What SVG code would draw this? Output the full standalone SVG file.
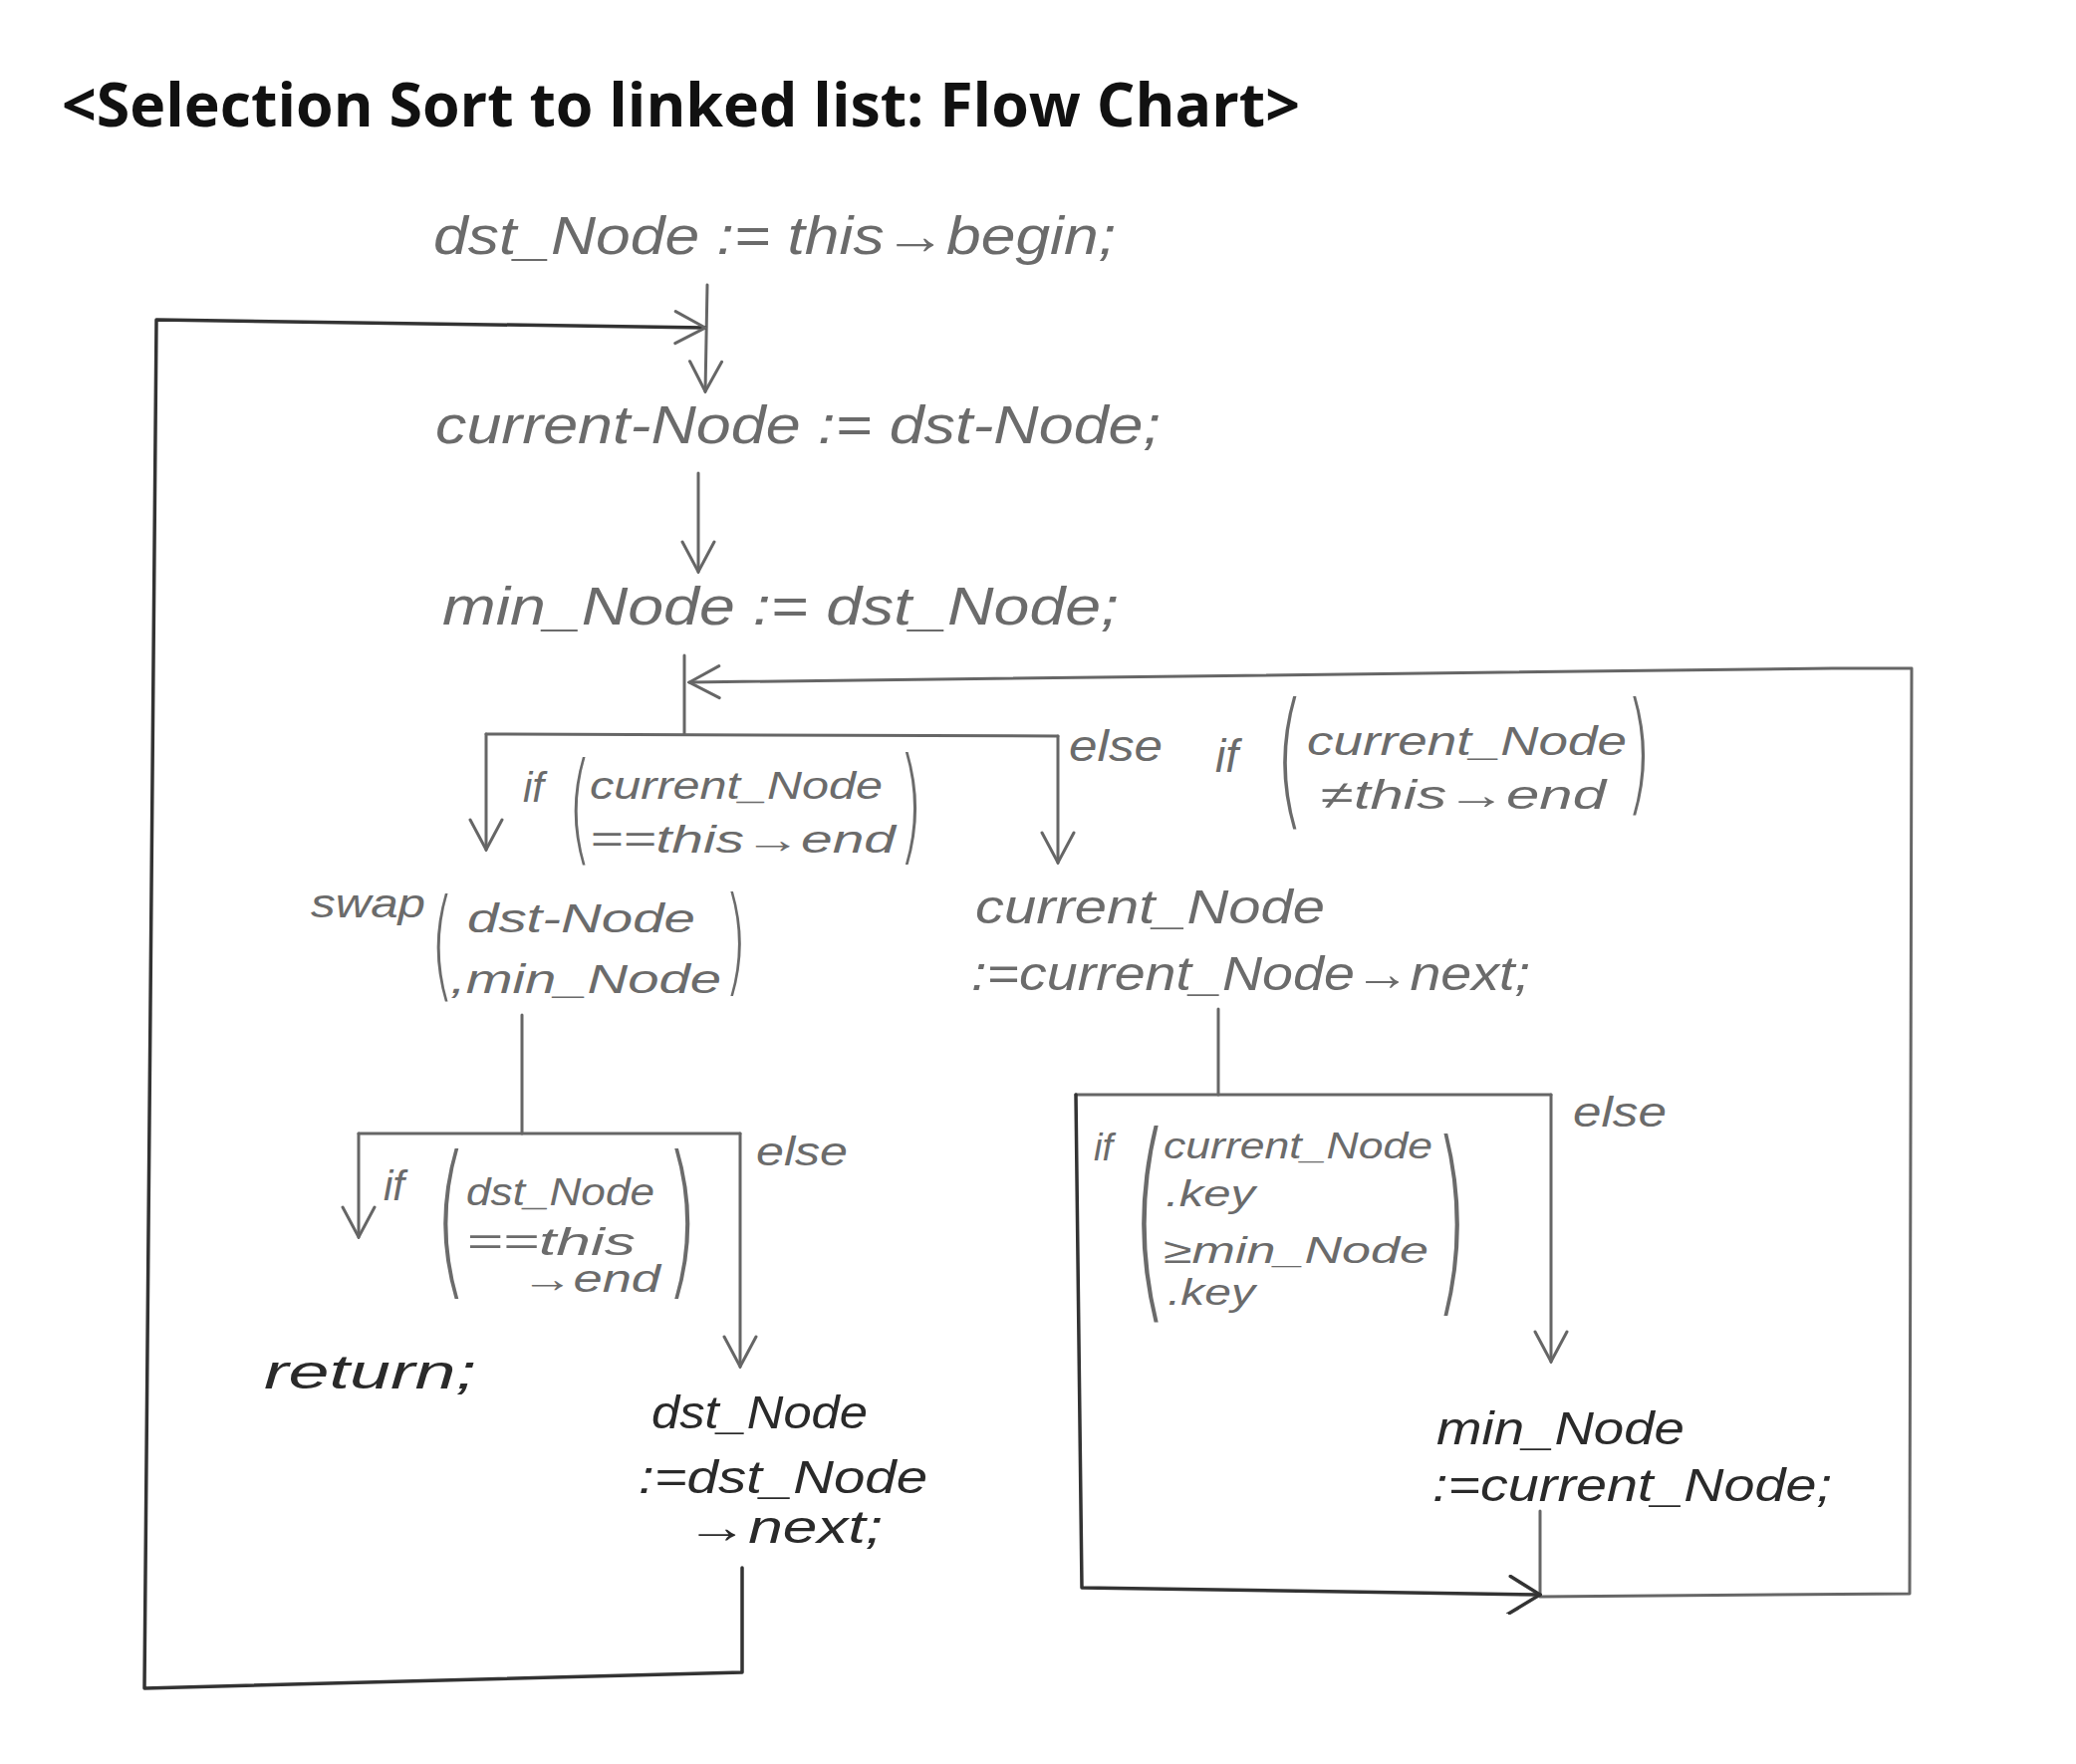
<svg xmlns="http://www.w3.org/2000/svg" width="2084" height="1771" viewBox="0 0 2084 1771">
<defs>
<style>
.title{font-family:"Open Sans","Liberation Sans",sans-serif;font-weight:bold;font-size:60px;fill:#111}
.h{font-family:"Liberation Sans","DejaVu Sans",sans-serif;font-style:italic;fill:#6b6b6b}
.d{fill:#2a2a2a}
.p{font-family:"DejaVu Sans","Liberation Sans",sans-serif;font-weight:200;fill:#6b6b6b}
.ln{fill:none;stroke:#666;stroke-width:3;stroke-linecap:round;stroke-linejoin:round}
.dk{stroke:#333;stroke-width:3.5}
</style>
<marker id="ah" markerUnits="userSpaceOnUse" viewBox="-34 -20 36 40" refX="0" refY="0" markerWidth="36" markerHeight="40" orient="auto">
<path d="M-30,-16 L0,0 L-30,16" fill="none" stroke="#666" stroke-width="3" stroke-linecap="round"/>
</marker>
<marker id="ahd" markerUnits="userSpaceOnUse" viewBox="-34 -20 36 40" refX="0" refY="0" markerWidth="36" markerHeight="40" orient="auto">
<path d="M-30,-18 L0,0 L-32,20" fill="none" stroke="#333" stroke-width="3.5" stroke-linecap="round"/>
</marker>
</defs>
<rect width="2084" height="1771" fill="#fff"/>
<text class="title" x="62" y="127" textLength="1243" lengthAdjust="spacingAndGlyphs">&lt;Selection Sort to linked list: Flow Chart&gt;</text>

<g id="connectors">
<path class="ln" d="M710,286 L708,393" marker-end="url(#ah)"/>
<path class="ln dk" d="M745,1574 L745,1679 L145,1695 L157,321 L708,329" marker-end="url(#ah)"/>
<path class="ln" d="M701,475 L701,574" marker-end="url(#ah)"/>
<path class="ln" d="M687,658 L687,737"/>
<path class="ln" d="M488,737 L1062,739"/>
<path class="ln" d="M488,737 L488,853" marker-end="url(#ah)"/>
<path class="ln" d="M1062,739 L1062,866" marker-end="url(#ah)"/>
<path class="ln" d="M1546,1517 L1546,1603 L1917,1600 L1919,671 L1839,671 L692,685" marker-end="url(#ah)"/>
<path class="ln" d="M1223,1013 L1223,1099"/>
<path class="ln" d="M1080,1099 L1557,1099"/>
<path class="ln dk" d="M1080,1099 L1086,1594 L1546,1601" marker-end="url(#ahd)"/>
<path class="ln" d="M1557,1099 L1557,1367" marker-end="url(#ah)"/>
<path class="ln" d="M524,1019 L524,1138"/>
<path class="ln" d="M360,1138 L743,1138"/>
<path class="ln" d="M360,1138 L360,1242" marker-end="url(#ah)"/>
<path class="ln" d="M743,1138 L743,1372" marker-end="url(#ah)"/>
</g>

<g id="n1"><text class="h" x="435" y="255" font-size="54" textLength="685" lengthAdjust="spacingAndGlyphs">dst_Node := this→begin;</text></g>
<g id="n2"><text class="h" x="437" y="445" font-size="54" textLength="728" lengthAdjust="spacingAndGlyphs">current-Node := dst-Node;</text></g>
<g id="n3"><text class="h" x="444" y="627" font-size="54" textLength="679" lengthAdjust="spacingAndGlyphs">min_Node := dst_Node;</text></g>

<g id="c1">
<text class="h" x="525" y="805" font-size="42">if</text>
<text class="p" transform="translate(570,852) scale(0.5,1)" font-size="122">(</text>
<text class="h" x="592" y="802" font-size="38" textLength="294" lengthAdjust="spacingAndGlyphs">current_Node</text>
<text class="h" x="592" y="856" font-size="38" textLength="307" lengthAdjust="spacingAndGlyphs">==this→end</text>
<text class="p" transform="translate(902,851) scale(0.5,1)" font-size="126">)</text>
</g>

<g id="c2">
<text class="h" x="1073" y="764" font-size="44" textLength="94" lengthAdjust="spacingAndGlyphs">else</text>
<text class="h" x="1220" y="775" font-size="46">if</text>
<text class="p" transform="translate(1280,813) scale(0.5,1)" font-size="149">(</text>
<text class="h" x="1312" y="758" font-size="40" textLength="321" lengthAdjust="spacingAndGlyphs">current_Node</text>
<text class="h" x="1326" y="812" font-size="40" textLength="286" lengthAdjust="spacingAndGlyphs">≠this→end</text>
<text class="p" transform="translate(1632,801) scale(0.5,1)" font-size="133">)</text>
</g>

<g id="swap">
<text class="h" x="312" y="921" font-size="40" textLength="115" lengthAdjust="spacingAndGlyphs">swap</text>
<text class="p" transform="translate(432,989) scale(0.5,1)" font-size="122">(</text>
<text class="h" x="469" y="936" font-size="40" textLength="229" lengthAdjust="spacingAndGlyphs">dst-Node</text>
<text class="h" x="452" y="997" font-size="40" textLength="272" lengthAdjust="spacingAndGlyphs">,min_Node</text>
<text class="p" transform="translate(727,985) scale(0.5,1)" font-size="117">)</text>
</g>

<g id="c3">
<text class="h" x="759" y="1170" font-size="40" textLength="92" lengthAdjust="spacingAndGlyphs">else</text>
<text class="h" x="385" y="1205" font-size="42">if</text>
<text class="p" transform="translate(436,1282) scale(0.5,1)" font-size="169">(</text>
<text class="h" x="468" y="1210" font-size="38" textLength="189" lengthAdjust="spacingAndGlyphs">dst_Node</text>
<text class="h" x="468" y="1260" font-size="38" textLength="170" lengthAdjust="spacingAndGlyphs">==this</text>
<text class="h" x="523" y="1297" font-size="38" textLength="140" lengthAdjust="spacingAndGlyphs">→end</text>
<text class="p" transform="translate(668,1282) scale(0.5,1)" font-size="169">)</text>
</g>

<g id="ret"><text class="h d" x="265" y="1394" font-size="48" textLength="213" lengthAdjust="spacingAndGlyphs">return;</text></g>

<g id="next">
<text class="h d" x="654" y="1434" font-size="46" textLength="217" lengthAdjust="spacingAndGlyphs">dst_Node</text>
<text class="h d" x="641" y="1499" font-size="46" textLength="290" lengthAdjust="spacingAndGlyphs">:=dst_Node</text>
<text class="h d" x="689" y="1549" font-size="46" textLength="197" lengthAdjust="spacingAndGlyphs">→next;</text>
</g>

<g id="cur">
<text class="h" x="979" y="927" font-size="48" textLength="351" lengthAdjust="spacingAndGlyphs">current_Node</text>
<text class="h" x="975" y="994" font-size="48" textLength="561" lengthAdjust="spacingAndGlyphs">:=current_Node→next;</text>
</g>

<g id="c4">
<text class="h" x="1579" y="1131" font-size="42" textLength="94" lengthAdjust="spacingAndGlyphs">else</text>
<text class="h" x="1098" y="1165" font-size="38">if</text>
<text class="p" transform="translate(1136,1298) scale(0.42,1)" font-size="221">(</text>
<text class="h" x="1168" y="1163" font-size="36" textLength="270" lengthAdjust="spacingAndGlyphs">current_Node</text>
<text class="h" x="1170" y="1211" font-size="36" textLength="90" lengthAdjust="spacingAndGlyphs">.key</text>
<text class="h" x="1168" y="1268" font-size="36" textLength="266" lengthAdjust="spacingAndGlyphs">≥min_Node</text>
<text class="h" x="1172" y="1310" font-size="36" textLength="88" lengthAdjust="spacingAndGlyphs">.key</text>
<text class="p" transform="translate(1440,1294) scale(0.42,1)" font-size="206">)</text>
</g>

<g id="minupd">
<text class="h d" x="1442" y="1450" font-size="46" textLength="249" lengthAdjust="spacingAndGlyphs">min_Node</text>
<text class="h d" x="1438" y="1507" font-size="46" textLength="401" lengthAdjust="spacingAndGlyphs">:=current_Node;</text>
</g>
</svg>
